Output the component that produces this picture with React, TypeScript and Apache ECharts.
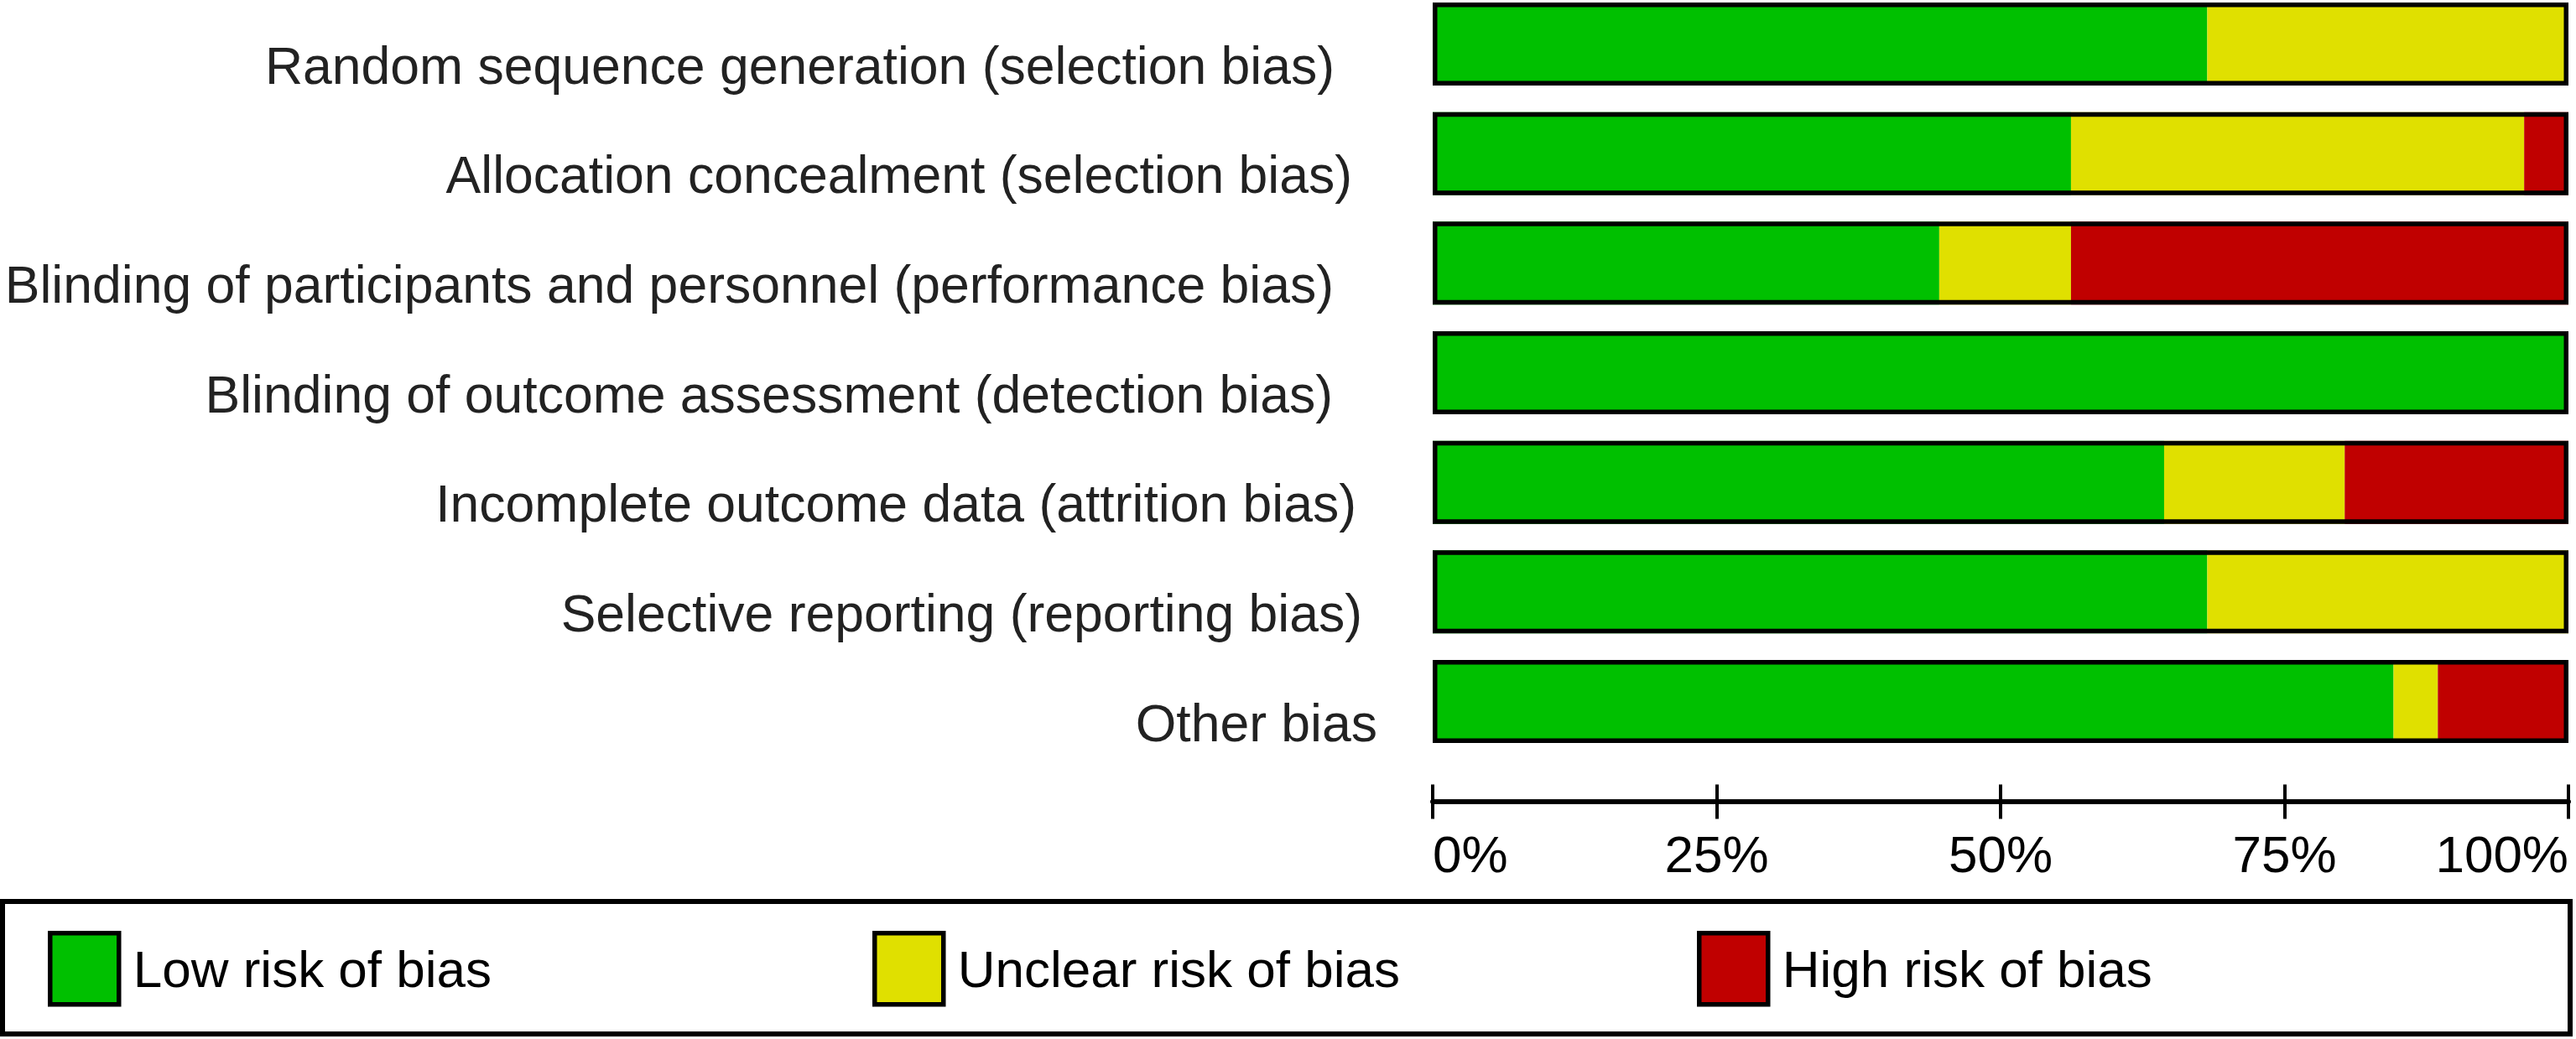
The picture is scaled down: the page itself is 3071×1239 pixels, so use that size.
import React, { useEffect, useRef } from "react";
import * as echarts from "echarts";

const categories = [
  "Random sequence generation (selection bias)",
  "Allocation concealment (selection bias)",
  "Blinding of participants and personnel (performance bias)",
  "Blinding of outcome assessment (detection bias)",
  "Incomplete outcome data (attrition bias)",
  "Selective reporting (reporting bias)",
  "Other bias",
];

const lowRisk = [68.2, 56.2, 44.6, 100, 64.4, 68.2, 84.6];
const unclearRisk = [31.8, 39.9, 11.6, 0, 15.9, 31.8, 3.9];
const highRisk = [0, 3.9, 43.8, 0, 19.7, 0, 11.5];
const frameValues = [100, 100, 100, 100, 100, 100, 100];

const seriesNames = ["Low risk of bias", "Unclear risk of bias", "High risk of bias"];
const xTicks = [0, 25, 50, 75, 100];

// style-only arrays (label right offsets, legend positions)
const labelPadRight = [51, 30, 52, 53, 25, 18, 0];
const legendLefts = [57, 1040, 2023];
const colors = ["#00c000", "#e0e000", "#c00000"];

const FONT = "Liberation Sans, Arial, Helvetica, sans-serif";

export default function App() {
  const ref = useRef<HTMLDivElement>(null);

  useEffect(() => {
    document.body.style.margin = "0";
    if (!ref.current) return;
    const chart = echarts.init(ref.current, null, { renderer: "svg" });

    const rich: Record<string, any> = {};
    labelPadRight.forEach((p, i) => {
      rich["r" + i] = {
        fontSize: 62.5,
        fontFamily: FONT,
        color: "#222",
        padding: [50, p, 0, 0],
      };
    });

    const xAxisBase = {
      type: "value",
      gridIndex: 0,
      position: "bottom",
      offset: 119,
      min: xTicks[0],
      max: xTicks[xTicks.length - 1],
      interval: 25,
      splitLine: { show: false },
      axisLine: { show: true, lineStyle: { color: "#000", width: 5.5 } },
    };

    const option: any = {
      animation: false,
      backgroundColor: "#fff",
      grid: { left: 1708, right: 9, top: 52.5, height: 784, containLabel: false },
      xAxis: [
        {
          ...xAxisBase,
          axisTick: { show: true, inside: false, length: 21, lineStyle: { color: "#000", width: 4 } },
          axisLabel: {
            show: true,
            formatter: "{value}%",
            fontSize: 62,
            fontFamily: FONT,
            color: "#000",
            margin: 32,
            alignMinLabel: "left",
            alignMaxLabel: "right",
          },
        },
        {
          ...xAxisBase,
          axisTick: { show: true, inside: true, length: 20, lineStyle: { color: "#000", width: 4 } },
          axisLabel: { show: false },
        },
      ],
      yAxis: {
        type: "category",
        data: categories,
        inverse: true,
        boundaryGap: false,
        axisLine: { show: false },
        axisTick: { show: false },
        splitLine: { show: false },
        axisLabel: {
          margin: 66,
          formatter: (v: string, i: number) => `{r${i}|${v}}`,
          rich,
        },
      },
      legend: seriesNames.map((n, i) => ({
        data: [n],
        left: legendLefts[i],
        top: 1110,
        padding: 0,
        icon: "rect",
        itemWidth: 82,
        itemHeight: 85,
        selectedMode: false,
        itemStyle: { borderColor: "#000", borderWidth: 5.5 },
        textStyle: { fontSize: 62, fontFamily: FONT, color: "#000", padding: [18, 0, 0, 12] },
      })),
      graphic: [
        {
          type: "rect",
          shape: { x: 3, y: 1075, width: 3061, height: 158 },
          style: { fill: "none", stroke: "#000", lineWidth: 6 },
          silent: true,
        },
      ],
      series: [
        { name: seriesNames[0], data: lowRisk, color: colors[0] },
        { name: seriesNames[1], data: unclearRisk, color: colors[1] },
        { name: seriesNames[2], data: highRisk, color: colors[2] },
      ]
        .map((s) => ({
          type: "bar",
          stack: "risk",
          name: s.name,
          data: s.data,
          barWidth: 99,
          barGap: "-100%",
          itemStyle: { color: s.color },
          silent: true,
        }))
        .concat([
          {
            type: "bar",
            name: "frame",
            data: frameValues,
            barWidth: 99,
            barGap: "-100%",
            z: 5,
            itemStyle: { color: "rgba(0,0,0,0)", borderColor: "#000", borderWidth: 5.5 },
            silent: true,
          } as any,
        ]),
    };

    chart.setOption(option);
    return () => chart.dispose();
  }, []);

  return (
    <div
      ref={ref}
      style={{ position: "fixed", left: 0, top: 0, width: 3071, height: 1239, background: "#fff" }}
    />
  );
}
